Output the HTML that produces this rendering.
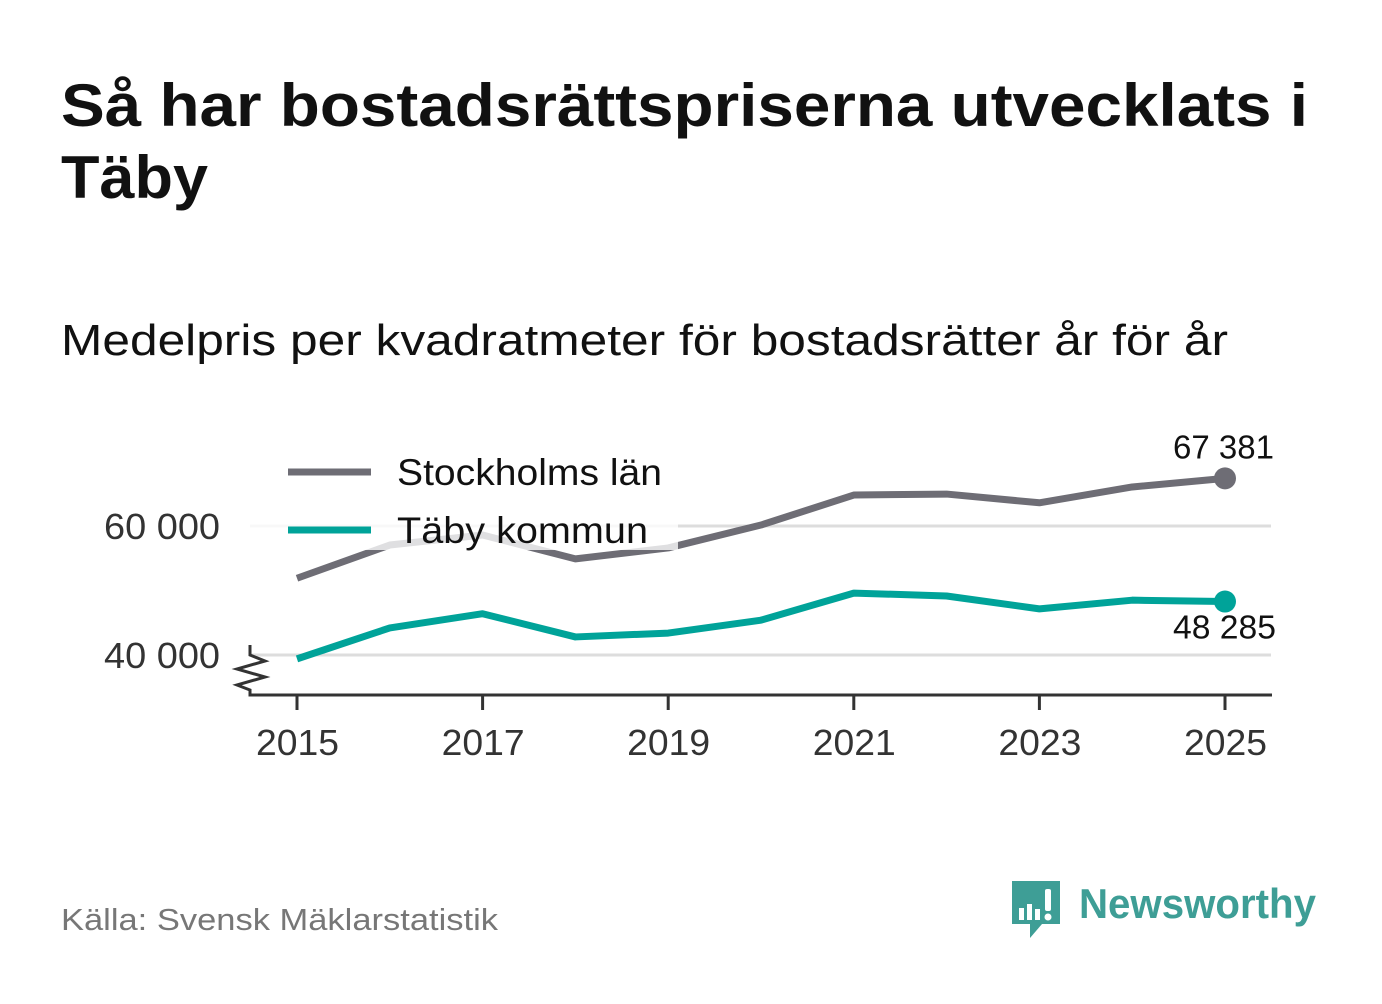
<!DOCTYPE html>
<html><head><meta charset="utf-8"><style>
body{margin:0;background:#fff;}
svg text{font-family:"Liberation Sans","DejaVu Sans",sans-serif;}
</style></head><body>
<svg width="1382" height="999" viewBox="0 0 1382 999" xmlns="http://www.w3.org/2000/svg">
<text x="61" y="126" font-size="60" font-weight="bold" fill="#111" textLength="1247" lengthAdjust="spacingAndGlyphs">Så har bostadsrättspriserna utvecklats i</text>
<text x="61" y="198" font-size="60" font-weight="bold" fill="#111" textLength="147" lengthAdjust="spacingAndGlyphs">Täby</text>
<text x="61" y="355" font-size="44" fill="#111" textLength="1167" lengthAdjust="spacingAndGlyphs">Medelpris per kvadratmeter för bostadsrätter år för år</text>
<g id="plot"></g>
<text x="61" y="930" font-size="31" fill="#777" textLength="437" lengthAdjust="spacingAndGlyphs">Källa: Svensk Mäklarstatistik</text>
<g>
<path d="M1012 881 h48 v43 h-18 l-12 14 v-14 h-18 z" fill="#3e9e96"/>
<rect x="1019" y="908" width="5" height="12" fill="#fff"/>
<rect x="1027" y="904" width="5" height="16" fill="#fff"/>
<rect x="1035" y="909" width="5" height="11" fill="#fff"/>
<rect x="1045" y="889" width="6" height="22" rx="2" fill="#fff"/>
<circle cx="1048" cy="917" r="3.5" fill="#fff"/>
<text x="1079" y="918" font-size="42" font-weight="bold" fill="#3e9e96" textLength="237" lengthAdjust="spacingAndGlyphs">Newsworthy</text>
</g>
</svg>
<script>
const years=[2015,2016,2017,2018,2019,2020,2021,2022,2023,2024,2025];
const stockholm=[51900,57050,58600,54900,56600,60150,64800,64950,63600,66050,67381];
const taby=[39400,44200,46400,42800,43400,45400,49600,49150,47150,48500,48285];
const yTicks=[40000,60000];
const xTicks=[2015,2017,2019,2021,2023,2025];
const NS="http://www.w3.org/2000/svg";
const g=document.getElementById('plot');
const X=v=>297+(v-2015)*92.8;
const Y=v=>655-(v-40000)*129/20000;
function el(t,a,p){const e=document.createElementNS(NS,t);for(const k in a)e.setAttribute(k,a[k]);(p||g).appendChild(e);return e;}
const fmt=v=>String(Math.round(v)).replace(/\B(?=(\d{3})+(?!\d))/g,' ');
yTicks.forEach(t=>{
 const l=el('line',{x1:250,x2:1271,y1:Y(t),y2:Y(t),stroke:'#ddd','stroke-width':3});
 
 
 const tx=el('text',{x:104,y:Y(t)+13,'font-size':36,fill:'#333',textLength:116,lengthAdjust:'spacingAndGlyphs'});tx.textContent=fmt(t);
 
 
});
const ax=el('path',{d:'M250 645 V655 L265 661 L237 669 L265 677 L237 685 L250 690 V695 H1272',fill:'none',stroke:'#333','stroke-width':3});


xTicks.forEach(t=>{
 el('line',{x1:X(t),x2:X(t),y1:695,y2:710,stroke:'#333','stroke-width':3});
 const tx=el('text',{x:X(t)-41,y:755,'font-size':36,fill:'#333',textLength:83,lengthAdjust:'spacingAndGlyphs'});tx.textContent=t;
 
 
});
function line(vals,color,name){
 const p=el('polyline',{points:vals.map((v,i)=>X(years[i])+','+Y(v)).join(' '),fill:'none',stroke:color,'stroke-width':7,'stroke-linejoin':'round'});
 
 
 const c=el('circle',{cx:X(years[years.length-1]),cy:Y(vals[vals.length-1]),r:11,fill:color});
 
 
}
line(stockholm,'#6e6d75','stockholm-line');
line(taby,'#00a399','taby-line');
const lb=el('rect',{x:250,y:440,width:428,height:110,fill:'#fff','fill-opacity':0.78});


[['Stockholms län','#6e6d75',472,265],['Täby kommun','#00a399',530,251]].forEach(([n,c,y,w])=>{
 el('line',{x1:288,x2:371,y1:y,y2:y,stroke:c,'stroke-width':7});
 const t=el('text',{x:397,y:y+13,'font-size':37,fill:'#111',textLength:w,lengthAdjust:'spacingAndGlyphs'});t.textContent=n;
 
 
});
const l1=el('text',{x:1173,y:Y(stockholm[10])-20,'font-size':33,fill:'#111',textLength:101,lengthAdjust:'spacingAndGlyphs'});l1.textContent=fmt(stockholm[10]);


const l2=el('text',{x:1173,y:Y(taby[10])+37,'font-size':33,fill:'#111',textLength:103,lengthAdjust:'spacingAndGlyphs'});l2.textContent=fmt(taby[10]);


</script>
</body></html>
